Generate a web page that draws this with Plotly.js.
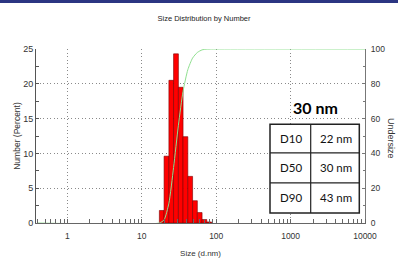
<!DOCTYPE html>
<html>
<head>
<meta charset="utf-8">
<script src="https://cdn.plot.ly/plotly-3.0.1.min.js"></script>
<style>html,body{margin:0;padding:0;background:#fff;}#wrap{position:relative;width:398px;height:258px;}#chart{width:398px;height:258px;}#topbar{position:absolute;left:0;top:0;width:398px;height:3px;background:#2b3582;z-index:5;}</style>
</head>
<body>
<div id="wrap"><div id="chart"></div><div id="topbar"></div></div>
<script>
// Size class edges (d.nm) of the bars that carry signal
var binEdges = [17.2, 19.9, 23.1, 26.7, 31.0, 35.8, 41.5, 48.1, 55.7, 64.5, 74.7, 86.5];
// Number (%) of each class
var numberPct = [1.8, 9.6, 20.5, 24.3, 19.5, 12.4, 6.7, 3.2, 1.5, 0.5, 0.15];
// Cumulative undersize curve (%)
var cumSize = [0.4, 17.2, 19.9, 23.1, 26.7, 31.0, 35.8, 41.5, 48.1, 55.7, 64.5, 74.7, 86.5, 10000];
var cumPct  = [0, 0, 1.8, 11.4, 31.9, 56.2, 75.7, 88.1, 94.8, 98.0, 99.5, 99.9, 100, 100];
// Result table
var tableLabels = ["D10", "D50", "D90"];
var tableValues = ["22 nm", "30 nm", "43 nm"];
var headline = "30 nm";

var traces = [];
for (var i = 0; i < numberPct.length; i++) {
  var lo = binEdges[i], hi = binEdges[i + 1], h = numberPct[i];
  traces.push({
    type: 'scatter', mode: 'lines',
    x: [lo, lo, hi, hi, lo], y: [0, h, h, 0, 0],
    fill: 'toself', fillcolor: '#ff0000',
    line: {color: '#7a0000', width: 0.6},
    hoverinfo: 'skip', showlegend: false, xaxis: 'x', yaxis: 'y'
  });
}
traces.push({
  type: 'scatter', mode: 'lines', x: cumSize, y: cumPct,
  line: {color: '#8fe08f', width: 1, shape: 'spline', smoothing: 0.6},
  showlegend: false, xaxis: 'x', yaxis: 'y2'
});

var TF = 'Liberation Sans, Arial, sans-serif';
var plotL = 36, plotR = 365, plotT = 49.3, plotB = 222.7;
function px(x) { return (x - plotL) / (plotR - plotL); }
function py(y) { return (plotB - y) / (plotB - plotT); }

var shapes = [
  {type: 'rect', xref: 'paper', yref: 'paper', x0: px(270), x1: px(359.3), y0: py(124.3), y1: py(212.7),
   fillcolor: '#ffffff', line: {color: '#222', width: 1.5}, layer: 'above'},
  {type: 'line', xref: 'paper', yref: 'paper', x0: px(310.7), x1: px(310.7), y0: py(124.3), y1: py(212.7),
   line: {color: '#222', width: 1.2}, layer: 'above'},
  {type: 'line', xref: 'paper', yref: 'paper', x0: px(270), x1: px(359.3), y0: py(152.8), y1: py(152.8),
   line: {color: '#222', width: 1.2}, layer: 'above'},
  {type: 'line', xref: 'paper', yref: 'paper', x0: px(270), x1: px(359.3), y0: py(182.7), y1: py(182.7),
   line: {color: '#222', width: 1.2}, layer: 'above'}
];

var rowY = [138.5, 167.7, 197.7];
var annotations = [
  {xref: 'paper', yref: 'paper', x: px(315), y: py(108), text: '<b>' + headline + '</b>', showarrow: false,
   font: {family: 'Lato, sans-serif', size: 16, color: '#000'}, xanchor: 'center', yanchor: 'middle'},
  {xref: 'paper', yref: 'paper', x: px(391), y: py(138), text: 'Undersize', showarrow: false, textangle: 90,
   font: {family: TF, size: 9, color: '#333'}, xanchor: 'center', yanchor: 'middle'}
];
for (var r = 0; r < tableLabels.length; r++) {
  annotations.push({xref: 'paper', yref: 'paper', x: px(290.5), y: py(rowY[r]), text: tableLabels[r], showarrow: false,
    font: {family: 'Lato, sans-serif', size: 11.5, color: '#111'}, xanchor: 'center', yanchor: 'middle'});
  annotations.push({xref: 'paper', yref: 'paper', x: px(335.5), y: py(rowY[r]), text: tableValues[r], showarrow: false,
    font: {family: 'Lato, sans-serif', size: 11.5, color: '#111'}, xanchor: 'center', yanchor: 'middle'});
}

var GRID = {gridcolor: '#8a8a8a', griddash: '1px,2.5px', gridwidth: 1};

var layout = {
  width: 398, height: 258,
  margin: {l: plotL, r: 398 - plotR, t: plotT, b: 258 - plotB, pad: 0},
  paper_bgcolor: '#fff', plot_bgcolor: '#fff',
  title: {text: 'Size Distribution by Number', font: {family: TF, size: 7.5, color: '#222'},
          xref: 'container', yref: 'container', x: 204 / 398, y: 1 - 18 / 258, xanchor: 'center', yanchor: 'middle'},
  xaxis: Object.assign({type: 'log', range: [-0.423, 4], tickvals: [1, 10, 100, 1000, 10000],
          ticktext: ['1', '10', '100', '1000', '10000'],
          showgrid: true,
          zeroline: false, showline: true, linecolor: '#666', linewidth: 1,
          ticks: '', ticklabelstandoff: 5, tickfont: {family: TF, size: 8.5, color: '#333'},
          minor: {ticks: 'inside', ticklen: 4, tickcolor: '#666', dtick: 'D1', showgrid: false},
          title: {text: 'Size (d.nm)', font: {family: TF, size: 8, color: '#333'}, standoff: 10},
          automargin: false, fixedrange: true}, GRID),
  yaxis: Object.assign({range: [0, 25], dtick: 5, showgrid: true,
          zeroline: false, showline: true, linecolor: '#555', linewidth: 1,
          ticks: 'inside', ticklen: 3, tickcolor: '#555',
          minor: {ticks: 'inside', ticklen: 3, dtick: 2.5, tickcolor: '#555'},
          tickfont: {family: TF, size: 9, color: '#333'},
          title: {text: 'Number (Percent)', font: {family: TF, size: 8.5, color: '#333'}, standoff: 1},
          automargin: false, fixedrange: true}, GRID),
  yaxis2: {overlaying: 'y', side: 'right', range: [0, 100], dtick: 20, showgrid: false, zeroline: false,
           showline: true, linecolor: '#777', linewidth: 1, ticks: 'inside', ticklen: 3, tickcolor: '#777',
           minor: {ticks: 'inside', ticklen: 2, dtick: 10, tickcolor: '#777'}, ticklabelstandoff: 3,
           tickfont: {family: TF, size: 8.5, color: '#333'}, automargin: false, fixedrange: true},
  shapes: shapes, annotations: annotations, showlegend: false
};

Plotly.newPlot('chart', traces, layout, {staticPlot: true, displayModeBar: false});
</script>
</body>
</html>
